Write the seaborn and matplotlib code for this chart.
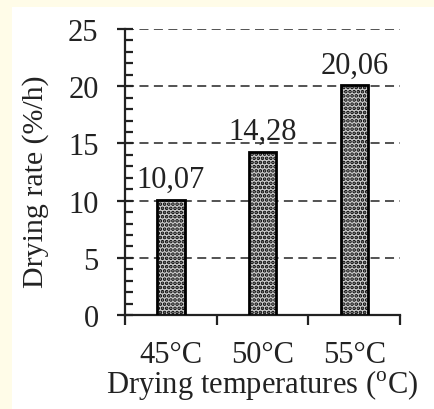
import matplotlib
matplotlib.use('Agg')
import matplotlib.pyplot as plt
import seaborn as sns
import pandas as pd
from matplotlib.ticker import MultipleLocator, FixedLocator
from matplotlib.patches import Rectangle

categories = ['45°C', '50°C', '55°C']
values = [10.07, 14.28, 20.06]
y_ticks = [0, 5, 10, 15, 20, 25]
value_labels = ['10,07', '14,28', '20,06']

sns.set_style('ticks')
plt.rcParams['font.family'] = ['Liberation Serif', 'DejaVu Serif']
plt.rcParams['mathtext.fontset'] = 'custom'
plt.rcParams['mathtext.rm'] = 'Liberation Serif'
plt.rcParams['hatch.linewidth'] = 1.8

fig = plt.figure(figsize=(4.34, 4.10), dpi=100, facecolor='#FFFCE8')
fig.patches.append(Rectangle((12 / 434, 0), 1 - 12 / 434, 1 - 8 / 410,
                             transform=fig.transFigure, facecolor='white',
                             edgecolor='none', zorder=-10))
ax = fig.add_axes([0.288, 0.229, 0.634, 0.698])
ax.set_zorder(1)
ax.set_facecolor('white')

df = pd.DataFrame({'temp': categories, 'rate': values})
sns.barplot(data=df, x='temp', y='rate', ax=ax, width=0.3, color='#cccccc',
            edgecolor='black', linewidth=2, saturation=1, zorder=3)
for p in ax.patches:
    p.set_hatch('....')

ax.bar_label(ax.containers[0], labels=value_labels, padding=4, fontsize=22, color='#222222')

ax.set_xlim(-0.5, 2.5)
ax.set_ylim(0, 25)
ax.set_yticks(y_ticks)
ax.yaxis.set_minor_locator(MultipleLocator(1))
ax.xaxis.set_minor_locator(FixedLocator([-0.5, 0.5, 1.5, 2.5]))

ax.tick_params(axis='y', which='major', direction='inout', length=12, width=1.6,
               labelsize=22, pad=13, colors='#222222')
ax.tick_params(axis='y', which='minor', direction='in', length=6, width=1.6, color='#222222')
ax.tick_params(axis='x', which='major', length=0, labelsize=22, pad=18, colors='#222222')
ax.tick_params(axis='x', which='minor', direction='out', length=7, width=1.6, color='#222222')

ax.set_axisbelow(True)
ax.yaxis.grid(True, which='major', linestyle=(0, (5, 3)), color='#444444', linewidth=1.3)

for s in ['top', 'right']:
    ax.spines[s].set_visible(False)
for s in ['left', 'bottom']:
    ax.spines[s].set_linewidth(1.6)
    ax.spines[s].set_color('#222222')

ax.set_xlabel('Drying temperatures ($^{\\mathrm{o}}$C)', fontsize=22, color='#222222')
ax.set_ylabel('Drying rate (%/h)', fontsize=21.5, color='#222222')
ax.xaxis.set_label_coords(0.5, -0.18)
ax.yaxis.set_label_coords(-0.275, 0.47)

fig.savefig('out.png', dpi=100, facecolor=fig.get_facecolor())
